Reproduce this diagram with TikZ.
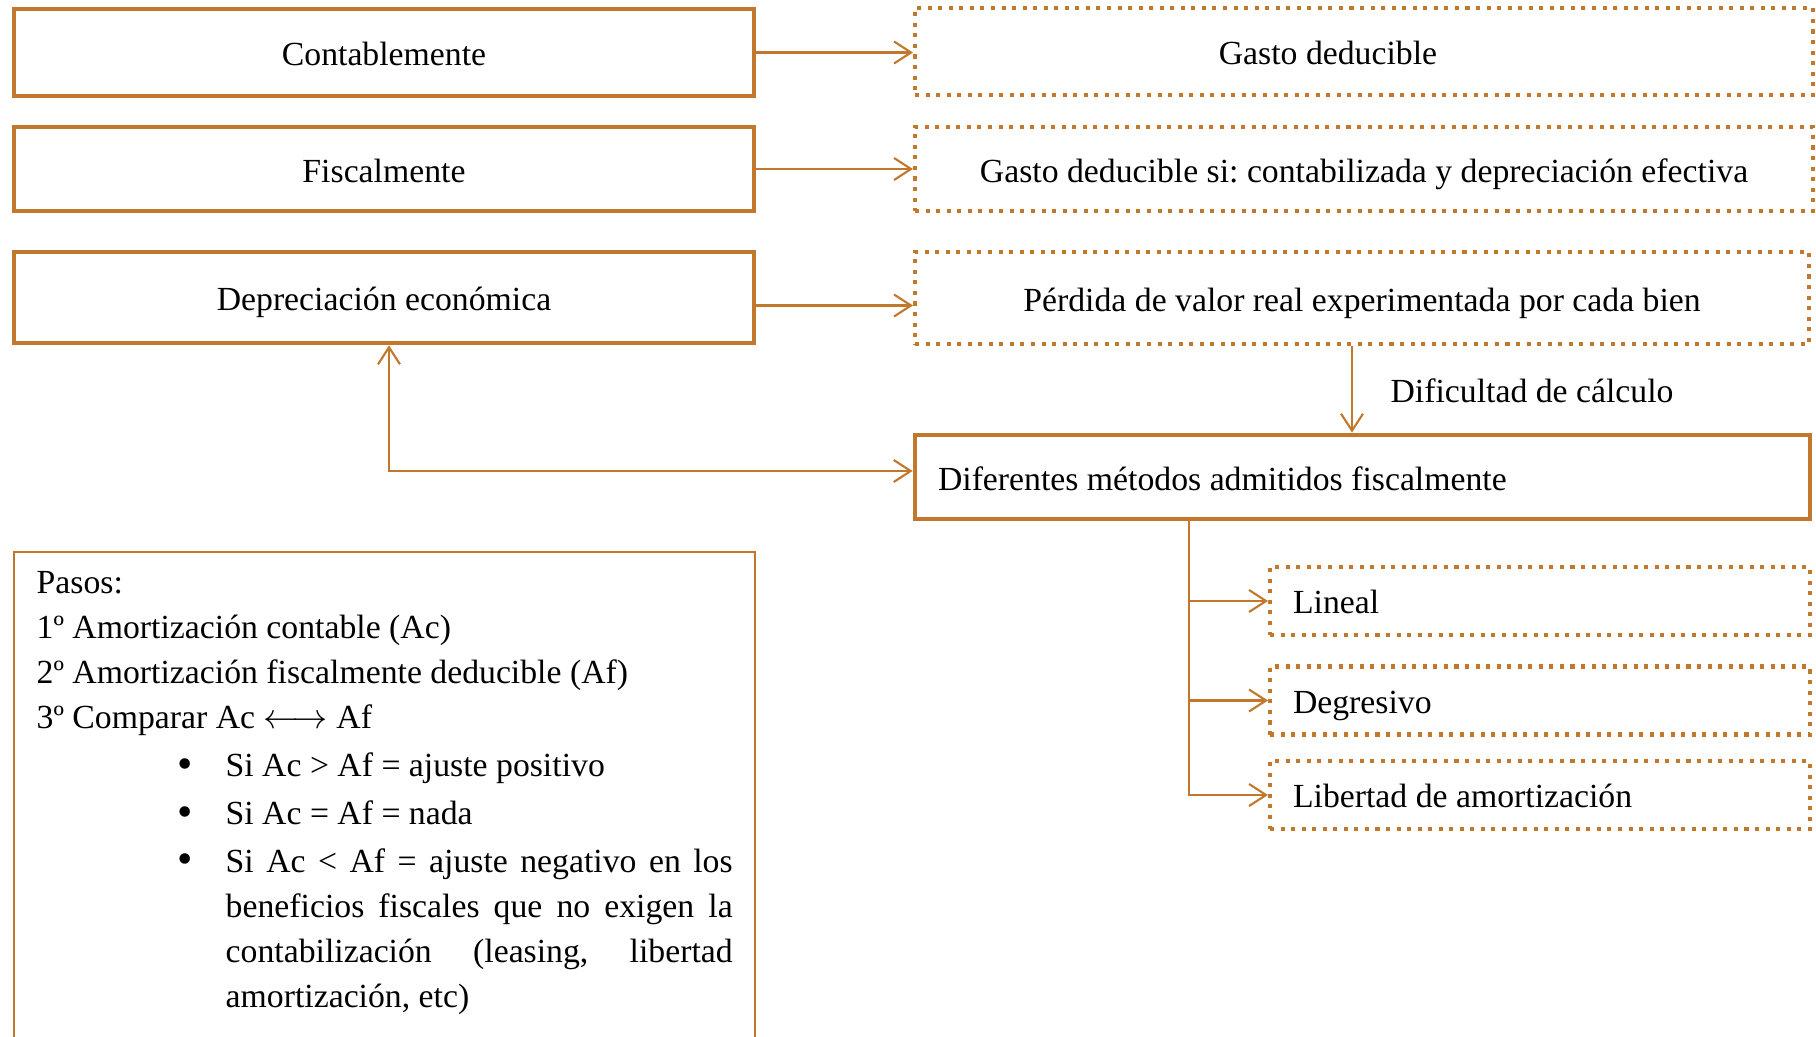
\documentclass[tikz,border=0pt]{standalone}
\usepackage{fontspec}
\setmainfont{Liberation Serif}
\usetikzlibrary{arrows.meta,positioning}

\definecolor{cobre}{RGB}{193,120,45}

\tikzset{
  every node/.style={font=\fontsize{9.6}{12.8}\selectfont\frenchspacing},
  caja/.style={draw=cobre,line width=1.35pt,inner sep=0pt,text height=9pt,text depth=1.4pt},
  cajapunt/.style={draw=cobre,line width=1.15pt,dash pattern=on 1.15pt off 1.85pt,inner sep=0pt,
    text height=9pt,text depth=1.4pt},
  metodo/.style={cajapunt,minimum width=5.40cm,minimum height=0.68cm,text width=4.94cm,
    align=justify,inner xsep=0.23cm,text height=8.6pt},
  flecha/.style={draw=cobre,line width=0.6pt,-{Straight Barb[length=1.7mm,width=2.2mm]}},
  flechados/.style={flecha,{Straight Barb[length=1.7mm,width=2.2mm]}-{Straight Barb[length=1.7mm,width=2.2mm]}},
}

\newcommand{\paso}[1]{\par\vspace{0.8pt}\noindent\hspace*{1.41cm}%
  \makebox[0.48cm][l]{\raisebox{-0.5pt}{\scalebox{1.3}{\textbullet}}}%
  \parbox[t]{5.07cm}{\fontsize{9.6}{12.8}\selectfont\frenchspacing
  \leftskip=0pt\rightskip=0pt\parfillskip=0pt plus 1fil\relax #1}}

\begin{document}
\begin{tikzpicture}

\useasboundingbox (0,0) rectangle (18.16,-10.37);

% Left column
\node[caja,minimum width=7.40cm,minimum height=0.87cm] (cont) at (3.84,-0.525) {Contablemente};
\node[caja,minimum width=7.40cm,minimum height=0.84cm] (fisc) at (3.84,-1.69) {Fiscalmente};
\node[caja,minimum width=7.40cm,minimum height=0.91cm] (depr) at (3.84,-2.975) {Depreciación económica};

% Right column
\node[cajapunt,minimum width=8.98cm,minimum height=0.87cm] (gasto) at (13.64,-0.515) {Gasto deducible\kern0.72cm};
\node[cajapunt,minimum width=8.98cm,minimum height=0.84cm] (gastosi) at (13.64,-1.69)
    {Gasto deducible si: contabilizada y depreciación efectiva};
\node[cajapunt,minimum width=8.94cm,minimum height=0.92cm] (perdida) at (13.62,-2.98)
    {Pérdida de valor real experimentada por cada bien};
\node (dific) at (15.32,-3.91) {Dificultad de cálculo};
\node[caja,minimum width=8.95cm,minimum height=0.84cm,text width=8.49cm,align=justify,inner xsep=0.23cm]
    (difer) at (13.625,-4.77) {Diferentes métodos admitidos fiscalmente};

% Methods
\node[metodo] (lineal) at (15.40,-6.01) {Lineal};
\node[metodo] (degr) at (15.40,-7.005) {Degresivo};
\node[metodo] (liber) at (15.40,-7.95) {Libertad de amortización};

% Steps box
\node[anchor=north west,text width=6.96cm,inner xsep=0.22cm,inner ysep=0.19cm,align=justify] (pasos) at (0.14,-5.52) {%
Pasos:\\
1º Amortización contable (Ac)\\
2º Amortización fiscalmente deducible (Af)\\
3º Comparar Ac $\longleftrightarrow$ Af
\paso{Si Ac > Af = ajuste positivo}
\paso{Si Ac = Af = nada}
\paso{Si Ac < Af = ajuste negativo en los\linebreak beneficios fiscales que no exigen la\linebreak
contabilización (leasing, libertad\linebreak amortización, etc)}};
\draw[cobre,line width=0.6pt] (pasos.north west |- 0,-10.6) -- (pasos.north west)
    -- (pasos.north east) -- (pasos.north east |- 0,-10.6);

% Arrows
\draw[flecha] (cont.east) -- (cont.east -| gasto.west);
\draw[flecha] (fisc.east) -- (gastosi.west);
\draw[flecha] ([yshift=-0.08cm]depr.east) -- ([yshift=-0.08cm]depr.east -| perdida.west);
\draw[flecha] ([xshift=-0.1cm]perdida.south) -- ([xshift=-0.1cm]perdida.south |- difer.north);
\draw[flechados] ([xshift=0.05cm]depr.south) |- ([yshift=0.06cm]difer.west);

\coordinate (rama) at ([xshift=-1.735cm]difer.south);
\foreach \destino in {lineal,degr,liber}
  \draw[flecha] (rama) |- (\destino.west);

\end{tikzpicture}
\end{document}
